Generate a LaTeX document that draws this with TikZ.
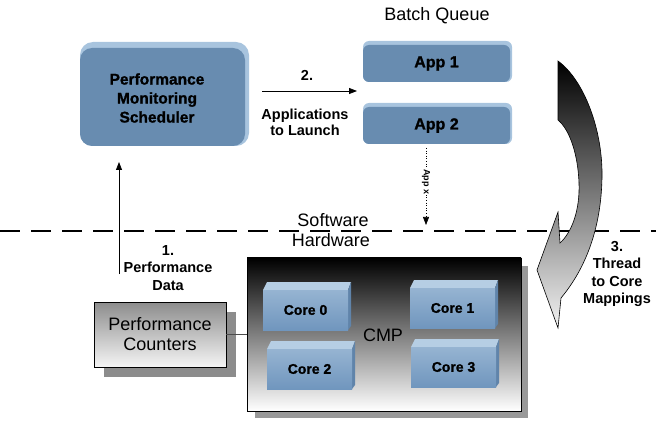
\documentclass[tikz,border=0pt]{standalone}
\usepackage{fontspec}
\setmainfont{Liberation Sans}
\newfontface\heavyfont{Liberation Sans Bold}[FakeBold=1.2]
\usetikzlibrary{arrows.meta}
\definecolor{boxblue}{RGB}{104,140,176}
\definecolor{boxhi}{RGB}{168,196,222}
\definecolor{coretop}{RGB}{182,206,228}
\definecolor{corefronttop}{RGB}{150,180,210}
\definecolor{corefrontbot}{RGB}{112,150,190}
\definecolor{coreside}{RGB}{96,132,170}
\definecolor{shadowgray}{RGB}{140,140,140}
\newcommand{\coreblk}[4]{%
  \fill[coretop] (#2,#3+8) -- (#2+4,#3) -- (#2+88,#3) -- (#2+85,#3+8) -- cycle;
  \fill[coreside] (#2+85,#3+8) -- (#2+88,#3) -- (#2+88,#3+44) -- (#2+85,#3+48) -- cycle;
  \node[corefront] (#1) at (#2+42.5,#3+28) {#4};
}
\tikzset{
  arr/.style={-{Triangle[length=8pt,width=6pt]}, line width=0.8pt},
  boldlbl/.style={font=\fontsize{14.5}{17.5}\selectfont\bfseries, align=center, inner sep=0pt},
  plainlbl/.style={font=\fontsize{18}{20}\selectfont, align=center, inner sep=0pt},
  boxtext/.style={font=\fontsize{15.5}{19}\heavyfont, align=center, inner sep=0pt},
  pmsbody/.style={fill=boxblue, rounded corners=12pt},
  appbody/.style={font=\fontsize{16}{19}\heavyfont, fill=boxblue, rounded corners=6pt, minimum width=147pt, minimum height=37pt, inner sep=0pt},
  corefront/.style={font=\fontsize{14}{16}\heavyfont, top color=corefronttop, bottom color=corefrontbot, minimum width=85pt, minimum height=40pt, inner sep=0pt},
  pcbox/.style={plainlbl, draw=black, line width=0.8pt, top color=black!45, bottom color=black!4, minimum width=132pt, minimum height=65pt},
  cmpbox/.style={draw=black, line width=0.6pt, top color=black, bottom color=white, minimum width=274pt, minimum height=153pt, inner sep=0pt},
  sepline/.style={line width=2pt, dash pattern=on 20pt off 11pt}
}
\begin{document}
\begin{tikzpicture}[x=1pt,y=-1pt]
\useasboundingbox (0,0) rectangle (656,422);
% separator
\draw[sepline] (0,231) -- (656,231);
\node[plainlbl] (sw) at (333,220) {Software};
\node[plainlbl] (hw) at (331,240) {Hardware};
% scheduler
\fill[boxhi, rounded corners=13pt] (80,42) rectangle (249,146);
\fill[pmsbody] (80,48) rectangle (245,146);
\node[boxtext] (pms) at (157,98) {Performance\\Monitoring\\Scheduler};
% batch queue
\node[plainlbl] (bq) at (437,16) {Batch Queue};
\fill[boxhi, rounded corners=6pt] (363,41) rectangle (512,82);
\node[appbody] (app1) at (436.5,63.5) {App 1};
\fill[boxhi, rounded corners=6pt] (363,103) rectangle (512,144);
\node[appbody] (app2) at (436.5,125.5) {App 2};
% arrow 2
\coordinate (a2s) at (262,91);
\coordinate (a2e) at (357,91);
\draw[arr] (a2s) -- (a2e);
\node[boldlbl] (l2n) at (307,75) {2.};
\node[boldlbl, font=\fontsize{14.5}{16}\selectfont\bfseries] (l2) at (305,122) {Applications\\to Launch};
% dotted arrow App x
\coordinate (axs) at (426,148);
\coordinate (axe) at (426,225);
\draw[arr, line width=0.6pt, dotted] (axs) -- (axe);
\node[font=\fontsize{9}{10}\selectfont\bfseries, rotate=-90, fill=white, inner sep=0.5pt] (appx) at (426,182) {App x};
% arrow 1
\coordinate (a1s) at (119,274);
\coordinate (a1e) at (119,162);
\draw[arr] (a1s) -- (a1e);
\node[boldlbl] (l1) at (168,268) {1.\\Performance\\Data};
% performance counters
\fill[shadowgray] (104,312) rectangle (236,377);
\node[pcbox] (pc) at (160,334.5) {Performance\\Counters};
% CMP
\fill[black!40] (255,266) rectangle (528,418);
\node[cmpbox] (cmp) at (384,334.5) {};
\draw[line width=1.2pt, black!70] (pc.east) -- (cmp.west);
\node[plainlbl] (cmpl) at (383,335) {CMP};
\coreblk{c0}{263}{282}{Core 0}
\coreblk{c1}{410}{280}{Core 1}
\coreblk{c2}{267}{341}{Core 2}
\coreblk{c3}{411}{339}{Core 3}
% curved arrow 3
\shadedraw[top color=black, bottom color=black!5, draw=black, line width=0.6pt]
  (558,61) .. controls (584,80) and (603,130) .. (602,178)
  .. controls (601,228) and (586,268) .. (561,298)
  -- (558,328) -- (537,270) -- (558,212) -- (560,243)
  .. controls (572,232) and (580,210) .. (579,183)
  .. controls (578,155) and (570,130) .. (558,120) -- cycle;
\node[boldlbl] (l3) at (617,274) {3.\\Thread\\to Core\\Mappings};
\end{tikzpicture}
\end{document}
